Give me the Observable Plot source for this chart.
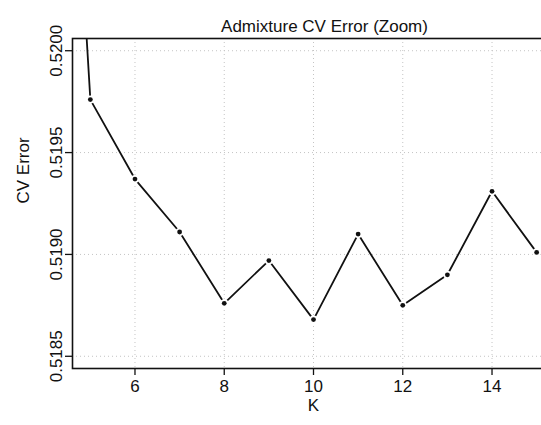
<!DOCTYPE html>
<html>
<head>
<meta charset="utf-8">
<script src="https://cdn.jsdelivr.net/npm/d3@7"></script>
<script src="https://cdn.jsdelivr.net/npm/@observablehq/plot@0.6"></script>
<style>
  html, body { margin: 0; padding: 0; background: #fff; }
  #chart { width: 541px; height: 425px; overflow: hidden; }
  #chart svg { max-width: none !important; }
</style>
</head>
<body>
<div id="chart"></div>
<script>
// Data
const kValues = [4, 5, 6, 7, 8, 9, 10, 11, 12, 13, 14, 15];
const cvErrors = [0.5234, 0.51976, 0.51937, 0.51911, 0.51876, 0.51897, 0.51868, 0.51910, 0.51875, 0.51890, 0.51931, 0.51901];
const xTicks = [6, 8, 10, 12, 14];
const yTicks = [0.5185, 0.5190, 0.5195, 0.5200];
const titleText = "Admixture CV Error (Zoom)";
const xLabel = "K";
const yLabel = "CV Error";

const data = kValues.map((k, i) => ({K: k, cv: cvErrors[i]}));
const shown = data.filter(d => d.K >= 5);

const font = "'Liberation Sans', Arial, Helvetica, sans-serif";
const ink = "#111";
const fs = 17;
const gridStyle = {stroke: "#c4c4c4", strokeOpacity: 1, strokeWidth: 1, strokeDasharray: "1,3"};

const chart = Plot.plot({
  width: 560,
  height: 425,
  marginLeft: 72,
  marginRight: 6,
  marginTop: 38,
  marginBottom: 57,
  style: {fontFamily: font, fontSize: fs + "px", color: ink, background: "#fff", maxWidth: "none"},
  x: {domain: [4.6, 15.4]},
  y: {domain: [0.51844, 0.52006]},
  marks: [
    Plot.gridX(xTicks, gridStyle),
    Plot.gridY(yTicks, gridStyle),
    Plot.line(data, {x: "K", y: "cv", stroke: ink, strokeWidth: 1.8, clip: true}),
    Plot.dot(shown, {x: "K", y: "cv", r: 2.4, fill: ink, stroke: "white", strokeWidth: 3.4, paintOrder: "stroke"}),
    Plot.frame({stroke: ink, strokeWidth: 1.6}),
    Plot.axisX({ticks: xTicks, tickSize: 7, tickPadding: 4, fontSize: fs, label: null, stroke: ink, strokeWidth: 1.3, tickFormat: d3.format("d")}),
    Plot.axisY({ticks: yTicks, tickSize: 7, label: null, tickFormat: () => "", stroke: ink, strokeWidth: 1.3}),
    Plot.text(yTicks, {y: d => d, frameAnchor: "left", dx: -15.5, rotate: -90, text: d => d3.format(".4f")(d), fontSize: fs, fill: ink, textAnchor: "middle"}),
    Plot.text([yLabel], {frameAnchor: "left", dx: -49, rotate: -90, fontSize: fs, fill: ink}),
    Plot.text([xLabel], {frameAnchor: "bottom", dy: 42, fontSize: fs, fill: ink}),
    Plot.text([titleText], {frameAnchor: "top", dy: -19, dx: 11, fontSize: fs, fill: ink})
  ]
});
chart.style.maxWidth = "none";
document.getElementById("chart").appendChild(chart);
</script>
</body>
</html>
